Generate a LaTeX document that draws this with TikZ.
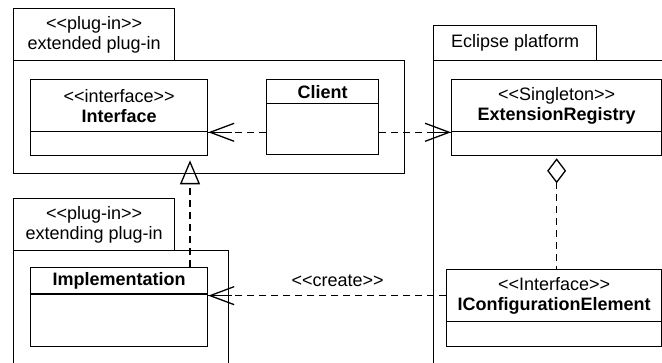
\documentclass[tikz,border=0pt]{standalone}
\usepackage{fontspec}
\setmainfont{Liberation Sans}
\usetikzlibrary{arrows.meta}
% stereotype brackets, kept as two separate < and > characters
\newcommand\stereo[1]{<\kern0pt<#1>\kern0pt>}

\begin{document}
\begin{tikzpicture}[x=1pt,y=-1pt,
  lbl/.style={font=\fontsize{18}{20}\selectfont, align=center},
  frame/.style={draw, line width=1.3pt, rectangle, inner sep=0pt, anchor=north west, lbl},
  dashline/.style={line width=1.3pt, dash pattern=on 7pt off 5pt},
  dep/.style={dashline, -{Straight Barb[length=24pt,width=18pt]}},
  shaft/.style={line width=1.3pt},
  realize/.style={dashline, -{Triangle[open,length=24pt,width=20pt]}, shorten >=4pt},
  agg/.style={dashline, {Diamond[open,length=25pt,width=19pt]}-, shorten <=2pt}
]
\useasboundingbox (0,0) rectangle (662,363);
\clip (0,0) rectangle (662,363);

% package: extended plug-in
\node[frame, minimum width=161pt, minimum height=52pt] (extTab) at (13,8) {\stereo{plug-in}\\extended plug-in};
\node[frame, minimum width=391pt, minimum height=113pt] (extBody) at (13,60) {};

% package: Eclipse platform
\node[frame, minimum width=163pt, minimum height=35pt] (eclTab) at (433,25) {Eclipse platform};
\node[frame, minimum width=260pt, minimum height=330pt] (eclBody) at (433,60) {};

% package: extending plug-in
\node[frame, minimum width=161pt, minimum height=52pt] (xtgTab) at (13,198) {\stereo{plug-in}\\extending plug-in};
\node[frame, minimum width=215pt, minimum height=140pt] (xtgBody) at (13,250) {};

% class Interface
\node[frame, minimum width=177pt, minimum height=52pt] (ifaceHead) at (30,79) {\stereo{interface}\\\textbf{Interface}};
\node[frame, minimum width=177pt, minimum height=24pt] (ifaceBody) at (30,131) {};

% class Client
\node[frame, minimum width=112pt, minimum height=24pt] (clientHead) at (266,79) {\textbf{Client}};
\node[frame, minimum width=112pt, minimum height=51pt] (clientBody) at (266,103) {};

% class ExtensionRegistry
\node[frame, minimum width=210pt, minimum height=52pt] (regHead) at (451,79) {\stereo{Singleton}\\\textbf{ExtensionRegistry}};
\node[frame, minimum width=210pt, minimum height=24pt] (regBody) at (451,131) {};

% class IConfigurationElement
\node[frame, minimum width=215pt, minimum height=52pt] (iceHead) at (446,269) {\stereo{Interface}\\\textbf{IConfigurationElement}};
\node[frame, minimum width=215pt, minimum height=25pt] (iceBody) at (446,321) {};

% class Implementation
\node[frame, minimum width=177pt, minimum height=26pt] (implHead) at (30,267) {\textbf{Implementation}};
\node[frame, minimum width=177pt, minimum height=53pt] (implBody) at (30,293) {};
\draw[line width=2.2pt] (implHead.south west) -- (implHead.south east);

% relations
\coordinate (gx) at (190,0);
\draw[dep] (clientBody.west |- ifaceHead.south east) -- (ifaceHead.south east);
\draw[shaft] (ifaceHead.south east) -- ++(24,0);
\draw[dep] (clientBody.east |- regHead.south west) -- (regHead.south west);
\draw[shaft] (regHead.south west) -- ++(-24,0);
\draw[realize] (implHead.north -| gx) -- (ifaceBody.south -| gx);
\draw[agg] (regBody.south) -- (regBody.south |- iceHead.north);
\draw[dep] (iceHead.west) -- (iceHead.west -| implHead.east)
  node[lbl, pos=0.456, yshift=15pt] (createLbl) {\stereo{create}};
\draw[shaft] (iceHead.west -| implHead.east) -- ++(24,0);
\end{tikzpicture}
\end{document}
